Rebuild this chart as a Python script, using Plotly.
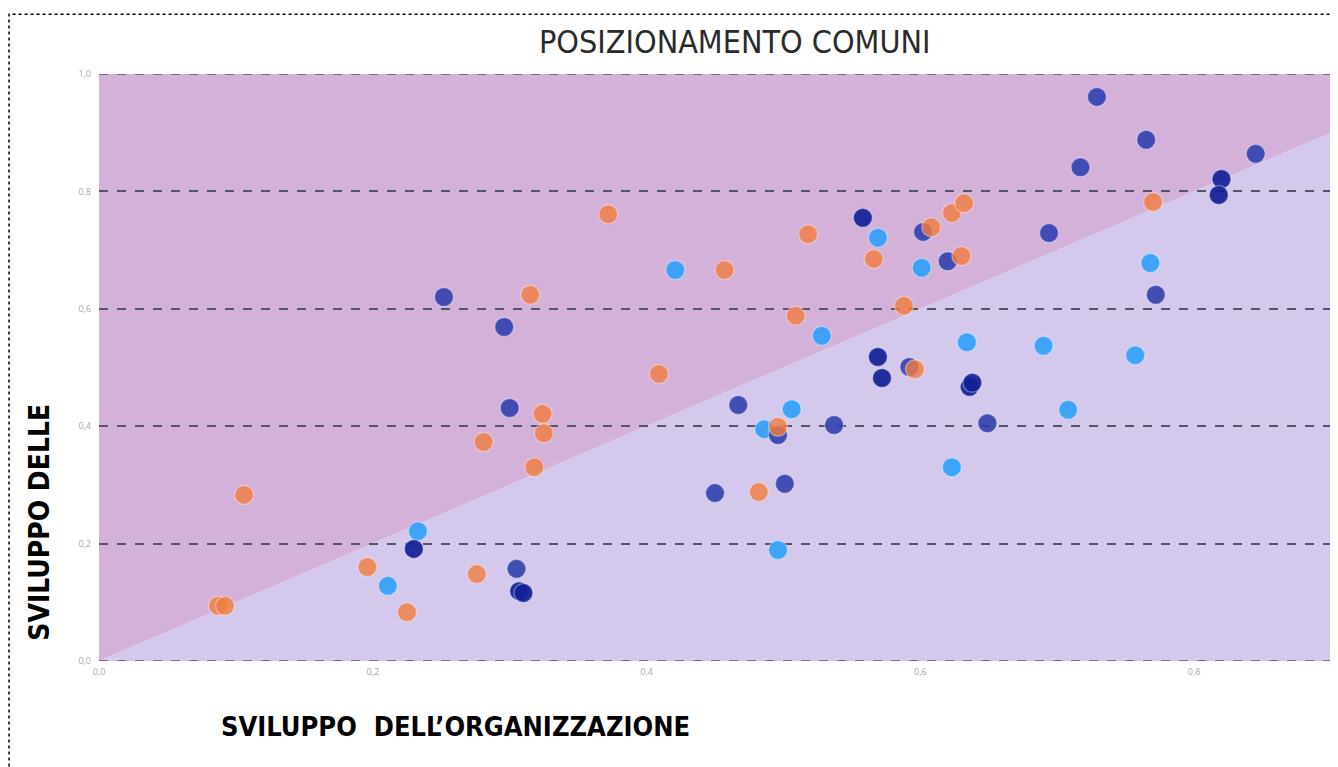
import plotly.graph_objects as go

# punti (sviluppo organizzazione, sviluppo delle ...)
arancio_x = [0.087, 0.092, 0.106, 0.196, 0.225, 0.276, 0.281, 0.318, 0.315, 0.324, 0.325, 0.372, 0.409,
             0.457, 0.482, 0.496, 0.509, 0.518, 0.566, 0.588, 0.596, 0.608, 0.623, 0.632, 0.630, 0.770]
arancio_y = [0.094, 0.094, 0.283, 0.160, 0.083, 0.148, 0.373, 0.330, 0.624, 0.421, 0.388, 0.761, 0.489,
             0.666, 0.288, 0.399, 0.588, 0.727, 0.685, 0.605, 0.497, 0.739, 0.763, 0.780, 0.690, 0.782]

azzurro_x = [0.211, 0.233, 0.421, 0.486, 0.506, 0.496, 0.528, 0.569, 0.601, 0.623, 0.634, 0.690, 0.708, 0.757, 0.768]
azzurro_y = [0.128, 0.221, 0.666, 0.395, 0.429, 0.189, 0.554, 0.721, 0.670, 0.330, 0.543, 0.537, 0.428, 0.521, 0.678]

blu_x = [0.252, 0.296, 0.300, 0.305, 0.450, 0.467, 0.496, 0.501, 0.537, 0.592, 0.602, 0.620, 0.649,
         0.694, 0.717, 0.729, 0.765, 0.772, 0.845]
blu_y = [0.620, 0.569, 0.431, 0.157, 0.286, 0.436, 0.385, 0.302, 0.402, 0.501, 0.731, 0.681, 0.405,
         0.729, 0.841, 0.961, 0.888, 0.624, 0.864]

navy_x = [0.230, 0.307, 0.310, 0.558, 0.569, 0.572, 0.636, 0.638, 0.820, 0.818]
navy_y = [0.191, 0.119, 0.116, 0.755, 0.518, 0.482, 0.467, 0.474, 0.821, 0.794]

x_max = 0.9
y_max = 1.0
y_ticks = [0.0, 0.2, 0.4, 0.6, 0.8, 1.0]
x_ticks = [0.0, 0.2, 0.4, 0.6, 0.8]

GRID = dict(color="#555566", width=1.5, dash="dash")

fig = go.Figure()

gruppi = [
    (azzurro_x, azzurro_y, "rgba(45,160,250,0.9)"),
    (blu_x, blu_y, "rgba(45,60,172,0.88)"),
    (navy_x, navy_y, "rgba(18,32,150,0.92)"),
    (arancio_x, arancio_y, "rgba(240,125,62,0.8)"),
]
for gx, gy, col in gruppi:
    fig.add_trace(go.Scatter(
        x=gx, y=gy, mode="markers",
        marker=dict(size=19, color=col, line=dict(color="rgba(255,255,255,0.35)", width=1.5)),
        showlegend=False, hoverinfo="x+y"
    ))

# sfondo: sopra la diagonale rosa, sotto lilla
fig.add_shape(type="path", xref="x", yref="y", layer="below",
              path=f"M 0,0 L {x_max},{x_max} L {x_max},{y_max} L 0,{y_max} Z",
              fillcolor="#d4b1d9", line=dict(width=0))
fig.add_shape(type="path", xref="x", yref="y", layer="below",
              path=f"M 0,0 L {x_max},0 L {x_max},{x_max} Z",
              fillcolor="#d5c8ed", line=dict(width=0))

# linee di griglia ai bordi (plotly non le disegna sul limite)
for yv in (y_ticks[0], y_ticks[-1]):
    fig.add_shape(type="line", xref="x", yref="y", layer="below",
                  x0=0, x1=x_max, y0=yv, y1=yv, line=GRID)

# cornice tratteggiata
fig.add_shape(type="rect", xref="paper", yref="paper",
              x0=-0.073, x1=1.01, y0=-0.22, y1=1.102,
              line=dict(color="black", width=1.5, dash="dot"))

fig.add_annotation(text="POSIZIONAMENTO COMUNI", xref="paper", yref="paper",
                   x=0.516, y=1.054, xanchor="center", yanchor="middle", showarrow=False,
                   font=dict(family="DejaVu Sans Condensed", size=32, color="#2a2a2a"))
fig.add_annotation(text="SVILUPPO  DELL’ORGANIZZAZIONE", xref="paper", yref="paper",
                   x=0.289, y=-0.112, xanchor="center", yanchor="middle", showarrow=False,
                   font=dict(family="DejaVu Sans Condensed", size=27, color="black", weight="bold"))
fig.add_annotation(text="SVILUPPO DELLE", xref="paper", yref="paper",
                   x=-0.048, y=0.237, xanchor="center", yanchor="middle", showarrow=False, textangle=-90,
                   font=dict(family="DejaVu Sans Condensed", size=28, color="black", weight="bold"))

# la pagina html aggiunge 8px di margine al corpo: margini compensati
fig.update_layout(
    width=1338, height=767,
    margin=dict(l=91, r=15, t=66, b=114),
    paper_bgcolor="white", plot_bgcolor="white",
    separators=",.",
    font=dict(family="Open Sans"),
)
fig.update_xaxes(range=[0, x_max], tickvals=x_ticks, tickformat=".1f",
                 showgrid=False, zeroline=False, showline=False,
                 tickfont=dict(size=9, color="#a8a8a8"), ticklen=0, ticklabelstandoff=4)
fig.update_yaxes(range=[0, y_max], tickvals=y_ticks, tickformat=".1f",
                 showgrid=True, gridcolor=GRID["color"], gridwidth=GRID["width"], griddash=GRID["dash"],
                 zeroline=False, showline=False,
                 tickfont=dict(size=9, color="#a8a8a8"), ticklen=0, ticklabelstandoff=7)

fig.write_html("out.html")
